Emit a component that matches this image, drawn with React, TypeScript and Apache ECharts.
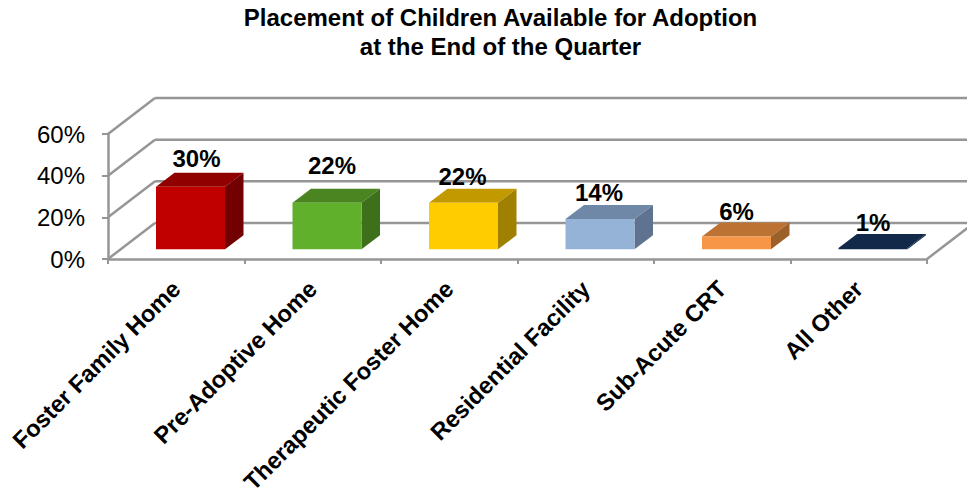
import React, { useEffect, useRef } from "react";
import * as echarts from "echarts";

const categories = ["Foster Family Home", "Pre-Adoptive Home", "Therapeutic Foster Home", "Residential Facility", "Sub-Acute CRT", "All Other"];
const values = [30, 22.3, 22.3, 14.5, 6.2, 0.6];
const valueLabels = ["30%", "22%", "22%", "14%", "6%", "1%"];
const yTicks = [0, 20, 40, 60];
const frontColors = ["#C00000", "#60B02C", "#FFCC00", "#95B3D7", "#F79646", "#12294A"];
const topColors = ["#900000", "#4A8522", "#C29A00", "#7088A8", "#BC7233", "#12294A"];
const sideColors = ["#730000", "#3E701C", "#A08000", "#5F7290", "#9C6029", "#12294A"];
const labelGaps = [5.3, 14.4, 3, 3.3, 2.3, 2.3];
const labelShifts = [6, 5, -1, -1, 0, 0];

const DX = 47, DY = -36;
const BAR_W = 69, BAR_DX = 18.5, BAR_DY = -14, BASE_DX = 14.25, BASE_DY = -9.7;
const FONT = "Liberation Sans";
const GRAY = "#969696";

export default function App() {
  const ref = useRef<HTMLDivElement>(null);
  useEffect(() => {
    const chart = echarts.init(ref.current!, null, { renderer: "svg" });
    const lineStyle = { stroke: GRAY, lineWidth: 2.5, fill: "none" };
    chart.setOption({
      animation: false,
      title: {
        text: "Placement of Children Available for Adoption\nat the End of the Quarter",
        left: 495.5, top: -2, textAlign: "center",
        textStyle: { fontFamily: FONT, fontWeight: "bold", fontSize: 24, lineHeight: 29, color: "#000" },
      },
      grid: { left: 108, right: 40, top: 134, bottom: 232, outerBoundsMode: "none" },
      xAxis: {
        type: "category", data: categories,
        axisLine: { lineStyle: { color: GRAY, width: 2.5 } },
        axisTick: { show: true, length: 5, lineStyle: { color: GRAY, width: 2 } },
        axisLabel: { rotate: 45, interval: 0, margin: 26, color: "#000", fontFamily: FONT, fontWeight: "bold", fontSize: 23.6 },
      },
      yAxis: {
        type: "value", min: 0, max: 60, interval: 20,
        axisLine: { show: true, lineStyle: { color: GRAY, width: 2.5 } },
        axisTick: { show: true, length: 6, lineStyle: { color: GRAY, width: 2 } },
        splitLine: { show: false },
        axisLabel: { formatter: "{value}%", margin: 23, color: "#000", fontFamily: FONT, fontSize: 24 },
      },
      series: [
        {
          type: "custom", z: 1, silent: true,
          data: yTicks.map((v) => [0, v]),
          renderItem: (_p: any, api: any) => {
            const v = api.value(1);
            const a = api.coord([0, v]);
            const size = api.size([1, 0]);
            const x0 = a[0] - size[0] / 2;
            const x1 = x0 + size[0] * categories.length;
            return {
              type: "group",
              children: [
                { type: "line", shape: { x1: x0, y1: a[1], x2: x0 + DX, y2: a[1] + DY }, style: lineStyle },
                { type: "line", shape: { x1: x0 + DX, y1: a[1] + DY, x2: x1 + DX, y2: a[1] + DY }, style: lineStyle },
                ...(v === 0 ? [{ type: "line", shape: { x1, y1: a[1], x2: x1 + DX, y2: a[1] + DY }, style: lineStyle }] : []),
              ],
            };
          },
        },
        {
          type: "custom", z: 3, silent: true,
          data: values.map((v, i) => [i, v]),
          encode: { x: 0, y: 1 },
          renderItem: (p: any, api: any) => {
            const i = p.dataIndex;
            const c = api.coord([i, api.value(1)]);
            const b = api.coord([i, 0]);
            const l = c[0] + BASE_DX - BAR_W / 2, r = l + BAR_W;
            const t = c[1] + BASE_DY, bt = b[1] + BASE_DY;
            return {
              type: "group",
              children: [
                { type: "polygon", shape: { points: [[l, t], [l + BAR_DX, t + BAR_DY], [r + BAR_DX, t + BAR_DY], [r, t]] }, style: { fill: topColors[i] } },
                { type: "polygon", shape: { points: [[r, t], [r + BAR_DX, t + BAR_DY], [r + BAR_DX, bt + BAR_DY], [r, bt]] }, style: { fill: sideColors[i] } },
                { type: "rect", shape: { x: l, y: t, width: BAR_W, height: bt - t }, style: { fill: frontColors[i] } },
                {
                  type: "text",
                  style: {
                    x: (l + r) / 2 + labelShifts[i], y: t + BAR_DY - labelGaps[i] + 3,
                    text: valueLabels[i], align: "center", verticalAlign: "bottom",
                    fontFamily: FONT, fontWeight: "bold", fontSize: 24, fill: "#000",
                  },
                },
              ],
            };
          },
        },
      ],
    });
    return () => chart.dispose();
  }, []);
  return <div ref={ref} style={{ position: "fixed", left: 0, top: 0, width: 967, height: 491, background: "#fff" }} />;
}
